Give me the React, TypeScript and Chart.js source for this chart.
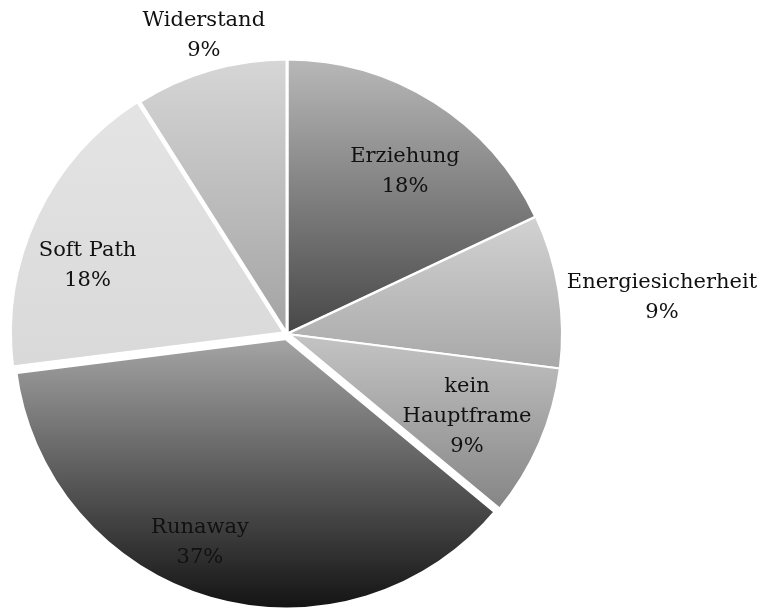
import React, { useEffect, useRef } from "react";
import { Chart, registerables } from "chart.js";

Chart.register(...registerables);

// ---- data ----
const categories = ["Erziehung", "Energiesicherheit", "kein Hauptframe", "Runaway", "Soft Path", "Widerstand"];
const values = [18, 9, 9, 37, 18, 9];
const percentLabels = ["18%", "9%", "9%", "37%", "18%", "9%"];
const labelLines = [["Erziehung"], ["Energiesicherheit"], ["kein", "Hauptframe"], ["Runaway"], ["Soft Path"], ["Widerstand"]];

// ---- style ----
const gradientTop = ["#b8b8b8", "#d2d2d2", "#c4c4c4", "#a6a6a6", "#e4e4e4", "#d6d6d6"];
const gradientBottom = ["#474747", "#a8a8a8", "#858585", "#121212", "#d9d9d9", "#a3a3a3"];
const sliceOffsets = [0, 0, 0, 8, 8, 0];
const sliceBorders = [3, 2, 2, 8, 4, 3];
const labelRadius = [0.73, 1.37, 0.72, 0.815, 0.76, 1.125];
const labelAngleShift = [3.6, 3.4, 1.2, 6.5, -6.2, 0.6];
const FONT = '21px "DejaVu Serif", serif';
const LINE_H = 30;

function arcYBounds(a: any) {
  const { y, startAngle, endAngle, outerRadius } = a.getProps(["y", "startAngle", "endAngle", "outerRadius"], true);
  let minY = y;
  let maxY = y;
  const angles = [startAngle, endAngle];
  for (let k = -8; k <= 8; k++) {
    const ang = (k * Math.PI) / 2;
    if (ang > startAngle && ang < endAngle) angles.push(ang);
  }
  for (const ang of angles) {
    const py = y + Math.sin(ang) * outerRadius;
    minY = Math.min(minY, py);
    maxY = Math.max(maxY, py);
  }
  return { minY, maxY };
}

const gradientPlugin = {
  id: "sliceGradients",
  beforeDatasetsDraw(chart: any) {
    const ctx = chart.ctx;
    const meta = chart.getDatasetMeta(0);
    meta.data.forEach((arc: any, i: number) => {
      const { minY, maxY } = arcYBounds(arc);
      const g = ctx.createLinearGradient(0, minY, 0, maxY);
      g.addColorStop(0, gradientTop[i]);
      g.addColorStop(1, gradientBottom[i]);
      arc.options.backgroundColor = g;
    });
  },
};

const labelPlugin = {
  id: "sliceLabels",
  afterDatasetsDraw(chart: any) {
    const ctx = chart.ctx;
    const meta = chart.getDatasetMeta(0);
    ctx.save();
    ctx.font = FONT;
    ctx.fillStyle = "#111111";
    ctx.textAlign = "center";
    ctx.textBaseline = "middle";
    meta.data.forEach((arc: any, i: number) => {
      const { x, y, startAngle, endAngle, outerRadius } = arc.getProps(["x", "y", "startAngle", "endAngle", "outerRadius"], true);
      const half = (startAngle + endAngle) / 2;
      const off = (sliceOffsets[i] || 0) / 4;
      const cx = x + Math.cos(half) * off;
      const cy = y + Math.sin(half) * off;
      const ang = half + (labelAngleShift[i] * Math.PI) / 180;
      const r = outerRadius * labelRadius[i];
      const lx = cx + Math.cos(ang) * r;
      const ly = cy + Math.sin(ang) * r;
      const lines = [...labelLines[i], percentLabels[i]];
      const top = ly - ((lines.length - 1) * LINE_H) / 2;
      lines.forEach((t, k) => ctx.fillText(t, lx, top + k * LINE_H));
    });
    ctx.restore();
  },
};

export default function App() {
  const ref = useRef<HTMLCanvasElement | null>(null);
  useEffect(() => {
    if (!ref.current) return;
    const chart = new Chart(ref.current, {
      type: "pie",
      data: {
        labels: categories,
        datasets: [
          {
            data: values,
            backgroundColor: gradientTop.slice(),
            borderColor: "#ffffff",
            borderWidth: sliceBorders.slice(),
            offset: sliceOffsets.slice(),
          },
        ],
      },
      options: {
        animation: false,
        responsive: false,
        devicePixelRatio: 1,
        radius: 275,
        layout: { padding: { left: 0, right: 186, top: 59, bottom: 0 } },
        plugins: {
          legend: { display: false },
          tooltip: { enabled: false },
          title: { display: false },
        },
      } as any,
      plugins: [gradientPlugin, labelPlugin],
    });
    return () => chart.destroy();
  }, []);
  return (
    <div style={{ position: "absolute", left: 0, top: 0, width: 760, height: 609, background: "#ffffff" }}>
      <canvas ref={ref} width={760} height={609} style={{ width: 760, height: 609, display: "block" }} />
    </div>
  );
}
